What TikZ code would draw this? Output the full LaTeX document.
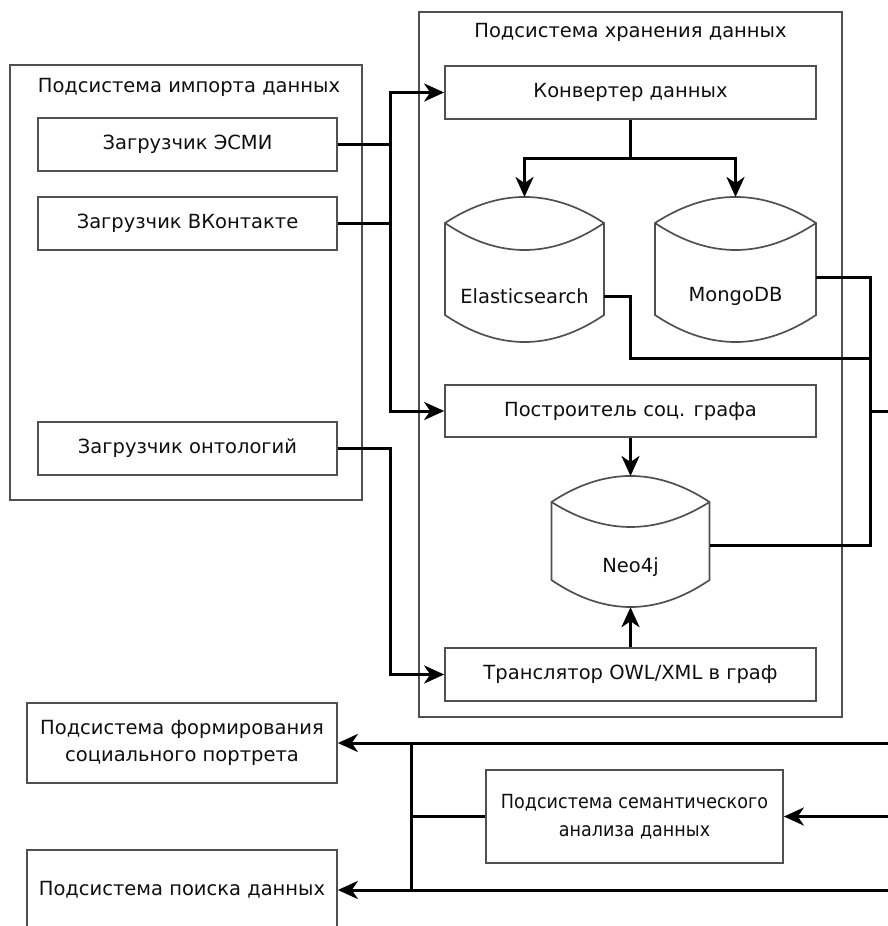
\documentclass[tikz,border=0pt]{standalone}
\usepackage{fontspec}
\setmainfont{DejaVu Sans}
\newfontfamily\condfont[FakeStretch=0.9]{DejaVu Sans}
\usetikzlibrary{arrows.meta,calc}
\definecolor{boxgray}{RGB}{80,80,80}
\definecolor{txt}{RGB}{15,15,15}
\begin{document}
\begin{tikzpicture}[x=1pt,y=-1pt,
  every node/.style={font=\fontsize{19.5}{27.5}\selectfont},
  box/.style={draw=boxgray, line width=1.7pt, inner sep=0pt, align=center, text=txt},
  frame/.style={draw=boxgray, line width=1.7pt},
  cylbody/.style={inner sep=0pt, text=txt},
  cylline/.style={draw=boxgray, line width=1.7pt},
  ttl/.style={inner sep=0pt, text=txt},
  conn/.style={draw=black, line width=3pt, line join=miter},
  arr/.style={conn, -{Stealth[length=20pt,width=18pt,inset=6pt]}}
]
\useasboundingbox (0,0) rectangle (888,926);
\clip (0,0) rectangle (888,926);

% outer frames
\node[frame, minimum width=352, minimum height=435, inner sep=0pt] (imp) at (186,282.5) {};
\node[ttl] (impttl) at (189,87) {Подсистема импорта данных};
\node[frame, minimum width=423, minimum height=705, inner sep=0pt] (st) at (630.5,364.5) {};
\node[ttl] (stttl) at (630.5,32) {Подсистема хранения данных};

% import boxes
\node[box, minimum width=299, minimum height=53] (esmi) at (187.5,144.5) {Загрузчик ЭСМИ};
\node[box, minimum width=299, minimum height=53] (vk) at (187.5,223.5) {Загрузчик ВКонтакте};
\node[box, minimum width=299, minimum height=53] (ont) at (187.5,448.5) {Загрузчик онтологий};

% storage boxes
\node[box, minimum width=371, minimum height=53] (conv) at (630.5,92.5) {Конвертер данных};
\node[box, minimum width=371, minimum height=52] (build) at (630.5,411) {Построитель соц. графа};
\node[box, minimum width=371, minimum height=53] (trans) at (630.5,674.5) {Транслятор OWL/XML в граф};

% cylinders (node = body below inner arc)
\node[cylbody, minimum width=159, minimum height=92] (es) at (524.5,296) {Elasticsearch};
\node[cylbody, minimum width=161, minimum height=92] (mongo) at (735.5,296) {MongoDB};
\node[cylbody, minimum width=158, minimum height=80] (neo) at (630.5,567) {Neo4j};

\draw[cylline] (445,223) -- (445,315) .. controls (498,351) and (551,351) .. (604,315) -- (604,223)
  .. controls (551,188.3) and (498,188.3) .. (445,223) -- cycle;
\draw[cylline] (445,223) .. controls (498,259) and (551,259) .. (604,223);
\draw[cylline] (655,223) -- (655,315) .. controls (708.7,351) and (762.3,351) .. (816,315) -- (816,223)
  .. controls (762.3,188.3) and (708.7,188.3) .. (655,223) -- cycle;
\draw[cylline] (655,223) .. controls (708.7,259) and (762.3,259) .. (816,223);
\draw[cylline] (551.5,502) -- (551.5,580) .. controls (604.2,616) and (656.8,616) .. (709.5,580) -- (709.5,502)
  .. controls (656.8,467.3) and (604.2,467.3) .. (551.5,502) -- cycle;
\draw[cylline] (551.5,502) .. controls (604.2,535.3) and (656.8,535.3) .. (709.5,502);

\coordinate (estop) at (524.5,197);
\coordinate (motop) at (735.5,197);
\coordinate (neotop) at (630.5,476);

% bottom boxes
\node[box, minimum width=310, minimum height=80] (form) at (182,743) {Подсистема формирования\\социального портрета};
\node[box, minimum width=297, minimum height=93, font=\condfont\fontsize{19.5}{27.5}\selectfont] (sem) at (634.5,816.5) {Подсистема семантического\\анализа данных};
\node[box, minimum width=310, minimum height=80] (poisk) at (182,890) {Подсистема поиска данных};

% coordinates
\coordinate (busx) at (390,0);
\coordinate (split) at (630.5,158);
\coordinate (esturn) at (630,358);
\coordinate (rb) at (870,0);
\coordinate (lb) at (411,0);
\coordinate (rout) at (888,411);
\coordinate (in1) at (888,743);
\coordinate (in2) at (888,816.5);
\coordinate (in3) at (888,890);
\coordinate (moout) at ($(mongo.east)+(0,-19)$);
\coordinate (neoout) at ($(neo.east)+(0,-22)$);

% import connectors
\draw[conn] (esmi.east) -- (esmi.east -| busx);
\draw[conn] (vk.east) -- (vk.east -| busx);
\draw[arr] (busx |- vk.east) |- (conv.west);
\draw[arr] (busx |- esmi.east) |- (build.west);
\draw[arr] (ont.east) -| (busx |- trans.west) -- (trans.west);

% storage connectors
\draw[conn] (conv.south) -- (split);
\draw[arr] (split) -| (estop);
\draw[arr] (split) -| (motop);
\draw[arr] (build.south) -- (neotop);
\draw[arr] (trans.north) -- (neo.south);

% right bus
\draw[conn] (es.east) -| (esturn) -- (esturn -| rb);
\draw[conn] (moout) -| (rb |- neoout) -- (neoout);
\draw[conn] (rb |- build.east) -- (rout);

% bottom connectors
\draw[arr] (in1) -- (form.east);
\draw[arr] (in2) -- (sem.east);
\draw[arr] (in3) -- (poisk.east);
\draw[conn] (lb |- form.east) -- (lb |- poisk.east);
\draw[conn] (sem.west) -- (sem.west -| lb);
\end{tikzpicture}
\end{document}
